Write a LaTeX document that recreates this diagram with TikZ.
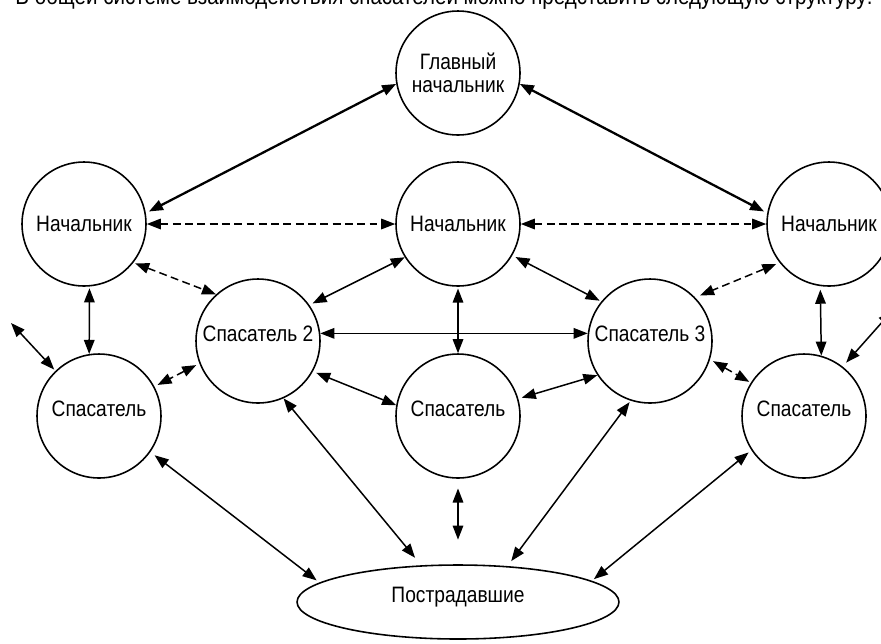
\documentclass[tikz,border=0pt]{standalone}
\usepackage{fontspec}
\setmainfont[FakeStretch=0.86]{Liberation Sans}
\usetikzlibrary{arrows.meta,shapes.geometric}

\begin{document}
\begin{tikzpicture}[x=0.02cm,y=-0.02cm,
  every node/.style={font=\fontsize{12.7}{13.2}\selectfont},
  unit/.style={draw,circle,line width=0.9pt,minimum size=2.48cm,inner sep=0pt},
  rescuer/.style={unit,text height=9pt,text depth=8pt},
  link/.style={line width=0.85pt,{Triangle[length=8pt,width=6pt]}-{Triangle[length=8pt,width=6pt]}},
  mainlink/.style={link,line width=1.3pt},
  dlink/.style={link,dash pattern=on 4.5pt off 2.5pt}]
\useasboundingbox (0,0) rectangle (881,643);
\node[anchor=base west,inner sep=0pt,font=\fontsize{13.6}{14}\selectfont] (intro) at (15,4) {В общей системе взаимодействия спасателей можно представить следующую структуру:};

\node[unit,align=center] (chief) at (458,73) {Главный\\начальник};
\node[unit] (headl) at (84,224) {Начальник};
\node[unit] (headm) at (458,224) {Начальник};
\node[unit] (headr) at (829,224) {Начальник};
\node[rescuer] (resc2) at (258,341) {Спасатель 2};
\node[rescuer] (resc3) at (650,341) {Спасатель 3};
\node[rescuer] (rescl) at (99,416) {Спасатель};
\node[rescuer] (rescm) at (458,416) {Спасатель};
\node[rescuer] (rescr) at (804,416) {Спасатель};
\node[draw,ellipse,line width=0.9pt,minimum width=6.44cm,minimum height=1.48cm,inner sep=0pt,text depth=8pt,text height=9pt] (victims) at (458,602) {Пострадавшие};
\coordinate (outl) at (11,323);
\coordinate (outr) at (892,311);

\draw[mainlink,shorten >=2pt] (chief.190) -- (headl.10);
\draw[mainlink,shorten >=2pt] (chief.350) -- (headr.170);
\draw[dlink] (headl) -- (headm);
\draw[dlink] (headm) -- (headr);
\draw[dlink,shorten <=1pt] (headl.322) -- (resc2.132);
\draw[link,shorten <=1pt] (headl.-85) -- (rescl.99);
\draw[link,shorten >=2pt] (headm.212) -- (resc2.35);
\draw[link,shorten <=2pt,shorten >=1pt] (headm.330) -- (resc3.141);
\draw[link,shorten <=1pt] (headm) -- (rescm);
\draw[dlink,shorten <=2pt,shorten >=3pt] (headr.218) -- (resc3.44);
\draw[link,shorten <=2pt] (headr.262) -- (rescr.74);
\draw[link] (resc2.7) -- (resc3.173);
\draw[dlink,shorten <=2pt,shorten >=2pt] (resc2.201) -- (rescl.28);
\draw[link,shorten <=2pt] (resc2.331) -- (rescm.170);
\draw[link,shorten >=2pt] (resc3.213) -- (rescm.16);
\draw[dlink,shorten <=2pt,shorten >=1pt] (resc3.343) -- (rescr.148);
\draw[link,shorten <=1pt] (rescl.134) -- (outl);
\draw[link,shorten <=3pt] (rescr.52) -- (outr);
\draw[link,shorten <=3pt,shorten >=2pt] (rescl.325) -- (victims.172.7);
\draw[link,shorten >=5.5pt] (resc2.294) -- (victims.135.2);
\draw[link,shorten <=5.5pt,shorten >=14pt] (rescm) -- (victims);
\draw[link,shorten <=1pt,shorten >=3.5pt] (resc3.252) -- (victims.36);
\draw[link,shorten <=2pt,shorten >=1.5pt] (rescr.213) -- (victims.9.5);
\end{tikzpicture}
\end{document}
